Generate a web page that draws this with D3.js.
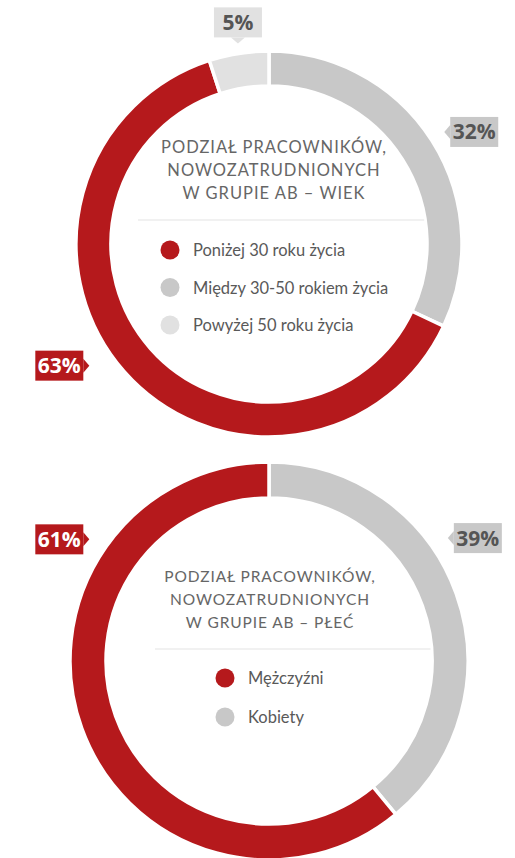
<!DOCTYPE html>
<html>
<head>
<meta charset="utf-8">
<script src="https://cdn.jsdelivr.net/npm/d3@7"></script>
<style>
  html, body { margin: 0; padding: 0; background: #fff; }
  svg { display: block; }
</style>
</head>
<body>
<svg id="chart" width="515" height="858"></svg>
<script>
// ---- data ----
const ageCategories = ["Między 30-50 rokiem życia", "Poniżej 30 roku życia", "Powyżej 50 roku życia"];
const ageValues = [32, 63, 5];
const ageLegendOrder = ["Poniżej 30 roku życia", "Między 30-50 rokiem życia", "Powyżej 50 roku życia"];
const ageTitle = ["PODZIAŁ PRACOWNIKÓW,", "NOWOZATRUDNIONYCH", "W GRUPIE AB – WIEK"];

const genderCategories = ["Kobiety", "Mężczyźni"];
const genderValues = [39, 61];
const genderLegendOrder = ["Mężczyźni", "Kobiety"];
const genderTitle = ["PODZIAŁ PRACOWNIKÓW,", "NOWOZATRUDNIONYCH", "W GRUPIE AB – PŁEĆ"];

// ---- styles ----
const colorOf = {
  "Poniżej 30 roku życia": "#b5191c",
  "Między 30-50 rokiem życia": "#c8c8c8",
  "Powyżej 50 roku życia": "#e1e1e1",
  "Mężczyźni": "#b5191c",
  "Kobiety": "#c8c8c8"
};
const labelTextColor = { "#b5191c": "#ffffff", "#c8c8c8": "#555555", "#e1e1e1": "#555555" };

const svg = d3.select("#chart");

function donut(cfg) {
  const g = svg.append("g").attr("transform", `translate(${cfg.cx},${cfg.cy})`);
  const data = cfg.cats.map((c, i) => ({ cat: c, value: cfg.vals[i] }));
  const pie = d3.pie().value(d => d.value).sort(null);
  const arcs = pie(data);
  const arc = d3.arc().innerRadius(cfg.ri).outerRadius(cfg.ro);

  g.selectAll("path.slice").data(arcs).join("path")
    .attr("class", "slice")
    .attr("d", arc)
    .attr("fill", d => colorOf[d.data.cat])
    .attr("stroke", "#fff")
    .attr("stroke-width", 3.5);

  // title
  const t = g.append("text")
    .attr("text-anchor", "middle")
    .attr("font-family", "Lato, 'Open Sans', sans-serif")
    .attr("font-size", cfg.titleSize)
    .attr("letter-spacing", cfg.titleSpacing)
    .attr("fill", "#666666");
  cfg.title.forEach((line, i) => {
    t.append("tspan").attr("x", cfg.titleDx).attr("y", cfg.titleY + i * cfg.titleLH).text(line);
  });

  // separator line
  const sy = cfg.sepY;
  const xr = Math.sqrt(cfg.ri * cfg.ri - sy * sy);
  g.append("line")
    .attr("x1", cfg.sepX1).attr("x2", xr - 1)
    .attr("y1", sy).attr("y2", sy)
    .attr("stroke", "#e4e4e4").attr("stroke-width", 1.2);

  // legend
  const lg = g.selectAll("g.leg").data(cfg.legend).join("g")
    .attr("class", "leg")
    .attr("transform", (d, i) => `translate(${cfg.legX},${cfg.legY + i * cfg.legStep})`);
  lg.append("circle").attr("r", 9.5).attr("fill", d => colorOf[d]);
  lg.append("text")
    .attr("x", 23).attr("y", 6)
    .attr("font-family", "Lato, 'Open Sans', sans-serif")
    .attr("font-size", 16.5)
    .attr("fill", "#595959")
    .text(d => d);

  // labels
  arcs.forEach((a, i) => {
    const L = cfg.labels[i];
    const ang = L.angle * Math.PI / 180;
    const tx = Math.sin(ang) * L.dist, ty = -Math.cos(ang) * L.dist;
    const col = colorOf[a.data.cat];
    const w = 48, h = 30, p = 6, hh = 7;
    let bx, by, tri;
    if (L.side === "right") { // box right of tip, pointer left
      bx = tx + p; by = ty - h / 2;
      tri = [[tx, ty], [bx, ty - hh], [bx, ty + hh]];
    } else if (L.side === "left") {
      bx = tx - p - w; by = ty - h / 2;
      tri = [[tx, ty], [tx - p, ty - hh], [tx - p, ty + hh]];
    } else { // top: box above tip, pointer down
      bx = tx - w / 2; by = ty - p - h;
      tri = [[tx, ty], [tx - hh, ty - p], [tx + hh, ty - p]];
    }
    const lgp = g.append("g");
    lgp.append("rect").attr("x", bx).attr("y", by).attr("width", w).attr("height", h).attr("fill", col);
    lgp.append("path").attr("d", d3.line()(tri) + "Z").attr("fill", col);
    lgp.append("text")
      .attr("x", bx + w / 2).attr("y", by + h / 2 + 7.5)
      .attr("text-anchor", "middle")
      .attr("font-family", "'Open Sans', sans-serif")
      .attr("font-weight", 700)
      .attr("font-size", 21)
      .attr("fill", labelTextColor[col])
      .text(a.data.value + "%");
  });
}

donut({
  cx: 269, cy: 244, ro: 193, ri: 158,
  cats: ageCategories, vals: ageValues, legend: ageLegendOrder, title: ageTitle,
  titleSize: 16.5, titleSpacing: 1, titleDx: 5, titleY: -91, titleLH: 23,
  sepY: -24, sepX1: -131,
  legX: -99, legY: 6, legStep: 37.5,
  labels: [
    { angle: 57.4, dist: 208, side: "right" },
    { angle: 235.9, dist: 217, side: "left" },
    { angle: 351.2, dist: 203, side: "top" }
  ]
});

donut({
  cx: 269, cy: 661, ro: 199, ri: 163,
  cats: genderCategories, vals: genderValues, legend: genderLegendOrder, title: genderTitle,
  titleSize: 15.5, titleSpacing: 0.9, titleDx: 1, titleY: -79, titleLH: 23,
  sepY: -12, sepX1: -114,
  legX: -44, legY: 17, legStep: 39,
  labels: [
    { angle: 55.5, dist: 217, side: "right" },
    { angle: 304.1, dist: 217, side: "left" }
  ]
});
</script>
</body>
</html>
